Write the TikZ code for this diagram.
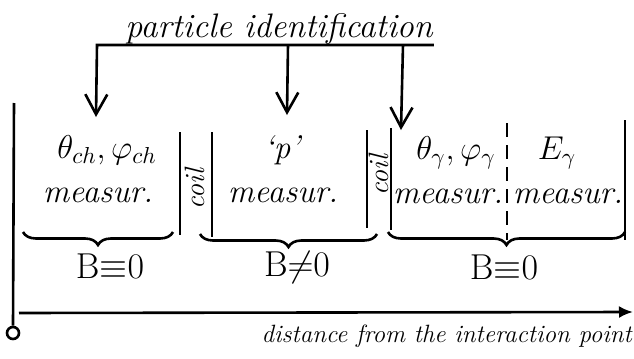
\RequirePackage{fix-cm}
\documentclass[tikz,border=0pt]{standalone}
\usepackage{amsmath}
\usepackage{tikz}
\usetikzlibrary{arrows.meta,decorations.pathreplacing}

\begin{document}
\begin{tikzpicture}[
    x=0.5pt,y=-0.5pt,
    line width=1.3pt,
    ttl/.style={font=\fontsize{17}{20}\selectfont\itshape,inner sep=0pt},
    lbl/.style={font=\fontsize{16.5}{19}\selectfont\itshape,inner sep=0pt},
    coiltxt/.style={font=\fontsize{14}{16}\selectfont\itshape,rotate=90,inner sep=0pt},
    field/.style={font=\fontsize{18}{20}\selectfont,inner sep=0pt},
    arr/.style={-{Straight Barb[length=10pt,width=11pt,line width=1.3pt]}},
    axisarr/.style={-{Latex[length=7pt,width=6pt]}},
    brc/.style={decorate,decoration={brace,mirror,amplitude=6.5pt}}
  ]
    \useasboundingbox (0,0) rectangle (634,359);
    % title bar with the three arrows
    \node[ttl,anchor=base] (pid) at (279,37) {particle identification};
    \coordinate (barL) at (97,45);
    \coordinate (barR) at (434,45);
    \coordinate (tapB) at (288,45);
    \coordinate (tapC) at (403,45);
    \coordinate (tipA) at (96,117);
    \coordinate (tipB) at (287,115);
    \coordinate (tipC) at (401,130);
    \draw[arr] (barR) -- (barL) -- (tipA);
    \draw[arr] (tapB) -- (tipB);
    \draw[arr] (tapC) -- (tipC);
    % detector regions
    \node[lbl] (thch) at (107,150) {$\theta_{ch},\varphi_{ch}$};
    \node[lbl] (msA) at (98,195) {measur.};
    \node[lbl] (pq) at (282,150) {`p'};
    \node[lbl] (msB) at (283,195) {measur.};
    \node[lbl] (thg) at (456,153) {$\theta_\gamma,\varphi_\gamma$};
    \node[lbl] (msC) at (448,196) {measur.};
    \node[lbl] (eg) at (557,153) {$E_\gamma$};
    \node[lbl] (msD) at (568,196) {measur.};
    \node[coiltxt] (coilA) at (195,189) {coil};
    \node[coiltxt] (coilB) at (379,175) {coil};
    \draw (180,132) -- (180,235);
    \draw (212,132) -- (212,237);
    \draw (367,130) -- (367,228);
    \draw (391,128) -- (391,230);
    \draw[dash pattern=on 7pt off 4pt] (507,123) -- (507,240);
    \draw (625,120) -- (625,240);
    % magnetic field braces
    \draw[brc] (23,232) -- (173,232);
    \draw[brc] (200,234) -- (377,234);
    \draw[brc] (388,232) -- (625,232);
    \node[field] (bA) at (110,266) {$\mathrm{B}{\equiv}0$};
    \node[field] (bB) at (297,267) {$\mathrm{B}{\neq}0$};
    \node[field] (bC) at (504,267) {$\mathrm{B}{\equiv}0$};
    % distance axis
    \node[circle,draw,minimum size=6pt,inner sep=0pt] (orig) at (13,333) {};
    \coordinate (ytop) at (14,103);
    \coordinate (xs) at (19,313);
    \coordinate (xe) at (633,312);
    \draw (orig.north) -- (ytop);
    \draw[axisarr] (xs) -- (xe);
    \node[font=\fontsize{12.5}{15}\selectfont\itshape,inner sep=0pt,anchor=base east] (dist) at (633,342) {distance from the interaction point};
\end{tikzpicture}
\end{document}
